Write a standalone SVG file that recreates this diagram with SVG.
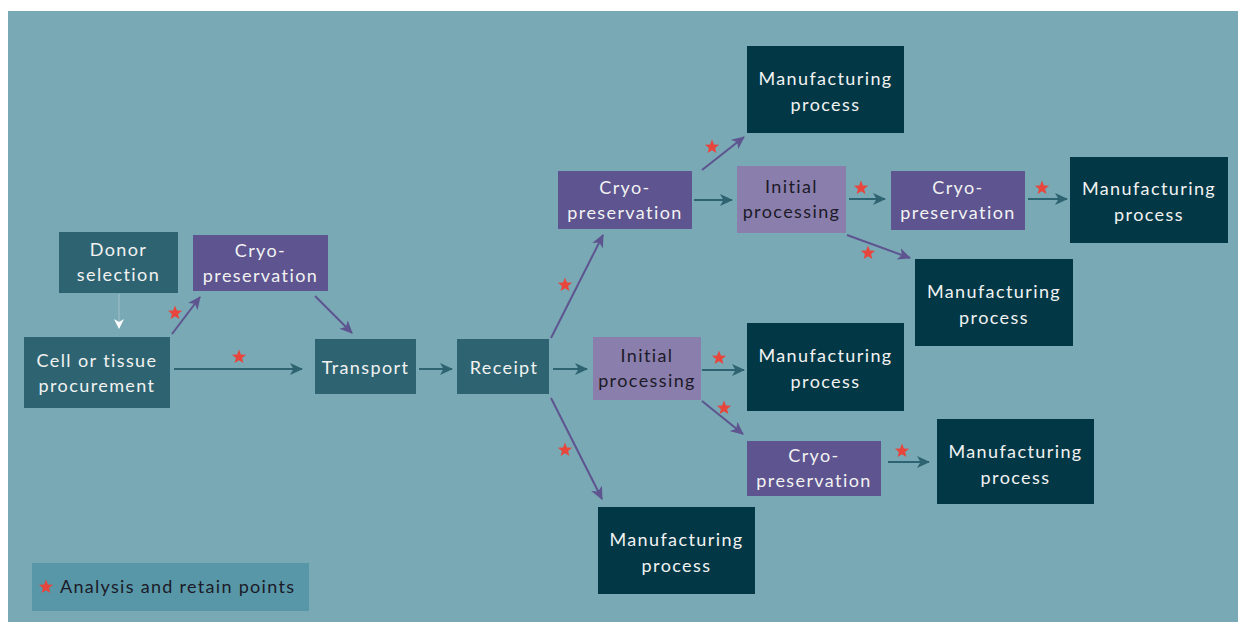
<svg xmlns="http://www.w3.org/2000/svg" width="1238" height="622" viewBox="0 0 1238 622">
  <defs>
    <style>
      .bg { fill: #78a9b4; }
      .n-teal { fill: #2e6471; }
      .n-dark { fill: #023846; }
      .n-purple { fill: #5d5490; }
      .n-lilac { fill: #8a7eac; }
      text { font-family: Lato, "Open Sans", "Liberation Sans", sans-serif; font-size: 18px; letter-spacing: 1.4px; text-anchor: middle; }
      .lt { fill: #f2f2f2; }
      .dk { fill: #1c1a28; }
      .c-teal { stroke: #2e6471; stroke-width: 2; fill: none; marker-end: url(#ah-teal); }
      .c-purple { stroke: #5d5490; stroke-width: 2; fill: none; marker-end: url(#ah-purple); }
      .star { fill: #e8453c; }
    </style>
    <marker id="ah-teal" viewBox="0 0 13 12" markerWidth="13" markerHeight="12" refX="12" refY="6" orient="auto" markerUnits="userSpaceOnUse">
      <path d="M0,0 L13,6 L0,12 L3.5,6 Z" fill="#2e6471"/>
    </marker>
    <marker id="ah-purple" viewBox="0 0 13 12" markerWidth="13" markerHeight="12" refX="12" refY="6" orient="auto" markerUnits="userSpaceOnUse">
      <path d="M0,0 L13,6 L0,12 L3.5,6 Z" fill="#5d5490"/>
    </marker>
    <marker id="ah-white" viewBox="0 0 10 10" markerWidth="10" markerHeight="10" refX="9" refY="5" orient="auto" markerUnits="userSpaceOnUse">
      <path d="M0,0 L10,5 L0,10 L3,5 Z" fill="#ffffff"/>
    </marker>
    <path id="star" d="M0,-7.5 L1.9,-2.6 L7.1,-2.3 L3.06,1 L4.4,6.05 L0,3.2 L-4.4,6.05 L-3.06,1 L-7.1,-2.3 L-1.9,-2.6 Z"/>
  </defs>

  <!-- backdrop -->
  <rect class="bg" x="8" y="11" width="1230" height="611"/>

  <!-- connectors -->
  <g id="connectors">
    <line x1="119" y1="294" x2="119" y2="328" stroke="#ffffff" stroke-opacity="0.2" stroke-width="1.5" marker-end="url(#ah-white)"/>
    <line class="c-purple" x1="172" y1="334" x2="200" y2="297"/>
    <line class="c-teal" x1="174" y1="369" x2="302" y2="369"/>
    <line class="c-purple" x1="315" y1="296" x2="352" y2="333"/>
    <line class="c-teal" x1="419" y1="369" x2="452" y2="369"/>
    <line class="c-teal" x1="553" y1="369" x2="587" y2="369"/>
    <line class="c-purple" x1="551" y1="338" x2="603" y2="235"/>
    <line class="c-purple" x1="551" y1="398" x2="602" y2="499"/>
    <line class="c-purple" x1="702" y1="170" x2="744" y2="137"/>
    <line class="c-teal" x1="694" y1="200" x2="732" y2="200"/>
    <line class="c-teal" x1="849" y1="199" x2="885" y2="199"/>
    <line class="c-purple" x1="847" y1="235" x2="910" y2="258"/>
    <line class="c-teal" x1="1028" y1="199" x2="1067" y2="199"/>
    <line class="c-teal" x1="702" y1="370" x2="744" y2="370"/>
    <line class="c-purple" x1="702" y1="401" x2="743" y2="434"/>
    <line class="c-teal" x1="888" y1="462" x2="929" y2="462"/>
  </g>

  <!-- analysis and retain points -->
  <g id="markers">
    <use href="#star" class="star" x="175" y="313"/>
    <use href="#star" class="star" x="239" y="357"/>
    <use href="#star" class="star" x="565" y="285"/>
    <use href="#star" class="star" x="565" y="450"/>
    <use href="#star" class="star" x="712" y="147"/>
    <use href="#star" class="star" x="861" y="188"/>
    <use href="#star" class="star" x="868" y="253"/>
    <use href="#star" class="star" x="1042" y="188"/>
    <use href="#star" class="star" x="719" y="358"/>
    <use href="#star" class="star" x="724" y="408"/>
    <use href="#star" class="star" x="902" y="451"/>
  </g>

  <g id="donor-selection">
    <rect class="n-teal" x="59" y="232" width="119" height="61"/>
    <text class="lt" x="118.5" y="256">Donor</text>
    <text class="lt" x="118.5" y="281">selection</text>
  </g>

  <g id="cryo-early">
    <rect class="n-purple" x="193" y="235" width="135" height="56"/>
    <text class="lt" x="260.5" y="257">Cryo-</text>
    <text class="lt" x="260.5" y="282">preservation</text>
  </g>

  <g id="procurement">
    <rect class="n-teal" x="24" y="337" width="146" height="71"/>
    <text class="lt" x="97" y="367">Cell or tissue</text>
    <text class="lt" x="97" y="392">procurement</text>
  </g>

  <g id="transport">
    <rect class="n-teal" x="315" y="339" width="101" height="55"/>
    <text class="lt" x="365.5" y="374">Transport</text>
  </g>

  <g id="receipt">
    <rect class="n-teal" x="457" y="339" width="92" height="55"/>
    <text class="lt" x="504" y="374">Receipt</text>
  </g>

  <g id="cryo-upper">
    <rect class="n-purple" x="558" y="171" width="134" height="58"/>
    <text class="lt" x="625" y="194">Cryo-</text>
    <text class="lt" x="625" y="219">preservation</text>
  </g>

  <g id="mfg-top">
    <rect class="n-dark" x="747" y="46" width="157" height="87"/>
    <text class="lt" x="825.5" y="85">Manufacturing</text>
    <text class="lt" x="825.5" y="111">process</text>
  </g>

  <g id="initial-upper">
    <rect class="n-lilac" x="737" y="166" width="109" height="67"/>
    <text class="dk" x="791.5" y="193">Initial</text>
    <text class="dk" x="791.5" y="218">processing</text>
  </g>

  <g id="cryo-upper-right">
    <rect class="n-purple" x="891" y="171" width="134" height="59"/>
    <text class="lt" x="958" y="194">Cryo-</text>
    <text class="lt" x="958" y="219">preservation</text>
  </g>

  <g id="mfg-upper-right">
    <rect class="n-dark" x="1070" y="157" width="158" height="86"/>
    <text class="lt" x="1149" y="195">Manufacturing</text>
    <text class="lt" x="1149" y="221">process</text>
  </g>

  <g id="mfg-upper-mid">
    <rect class="n-dark" x="915" y="259" width="158" height="87"/>
    <text class="lt" x="994" y="298">Manufacturing</text>
    <text class="lt" x="994" y="324">process</text>
  </g>

  <g id="initial-mid">
    <rect class="n-lilac" x="593" y="337" width="108" height="63"/>
    <text class="dk" x="647" y="362">Initial</text>
    <text class="dk" x="647" y="387">processing</text>
  </g>

  <g id="mfg-mid">
    <rect class="n-dark" x="747" y="323" width="157" height="88"/>
    <text class="lt" x="825.5" y="362">Manufacturing</text>
    <text class="lt" x="825.5" y="388">process</text>
  </g>

  <g id="cryo-lower">
    <rect class="n-purple" x="747" y="441" width="134" height="55"/>
    <text class="lt" x="814" y="462">Cryo-</text>
    <text class="lt" x="814" y="487">preservation</text>
  </g>

  <g id="mfg-lower-right">
    <rect class="n-dark" x="937" y="419" width="157" height="85"/>
    <text class="lt" x="1015.5" y="458">Manufacturing</text>
    <text class="lt" x="1015.5" y="484">process</text>
  </g>

  <g id="mfg-bottom">
    <rect class="n-dark" x="598" y="507" width="157" height="87"/>
    <text class="lt" x="676.5" y="546">Manufacturing</text>
    <text class="lt" x="676.5" y="572">process</text>
  </g>

  <g id="legend">
    <rect x="32" y="563" width="277" height="48" fill="#5797a7"/>
    <use href="#star" class="star" x="46" y="587"/>
    <text class="dk" x="60" y="593" style="text-anchor: start; font-size: 18px; letter-spacing: 1.3px;">Analysis and retain points</text>
  </g>
</svg>
